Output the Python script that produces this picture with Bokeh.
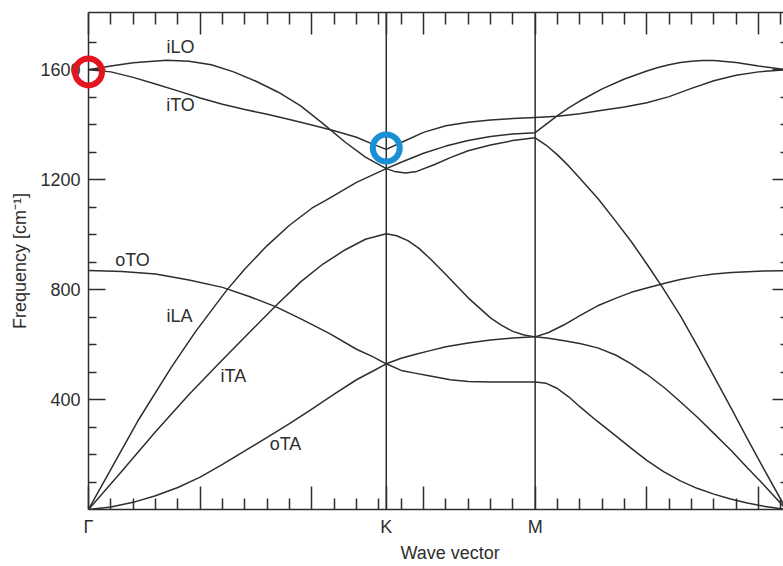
from bokeh.plotting import figure
from bokeh.models import Range1d, LinearAxis, FixedTicker, Span, Title, CustomLabelingPolicy
from bokeh.core.properties import value
from bokeh.embed import file_html
from bokeh.resources import INLINE

# High-symmetry points along the path, wave vector in units of pi/a
K_POS = 4 / 3
M_POS = 2.0
G_END = 3.125

# Phonon branches of graphene along Gamma-K-M-Gamma: wave vector and frequency (cm^-1)
ilo_q = [0, 0.10, 0.20, 0.35, 0.45, 0.55, 0.65, 0.75, 0.85, 0.95, 1.05, 1.15, 1.24, K_POS,
         1.40, 1.50, 1.60, 1.70, 1.80, 1.90, M_POS,
         2.05, 2.10, 2.15, 2.20, 2.30, 2.40, 2.50, 2.55, 2.60, 2.65, 2.70, 2.75, 2.80, 2.90, 3.00, G_END]
ilo_f = [1600, 1613, 1625, 1634, 1631, 1618, 1592, 1558, 1518, 1468, 1404, 1336, 1282, 1240,
         1263, 1296, 1322, 1342, 1357, 1366, 1371,
         1402, 1433, 1461, 1486, 1530, 1566, 1595, 1608, 1618, 1626, 1631, 1633, 1633, 1626, 1613, 1600]

ito_q = [0, 0.10, 0.20, 0.30, 0.40, 0.50, 0.60, 0.70, 0.80, 0.90, 1.00, 1.10, 1.20, 1.27, K_POS,
         1.40, 1.50, 1.60, 1.70, 1.80, 1.90, M_POS,
         2.10, 2.20, 2.30, 2.40, 2.50, 2.60, 2.70, 2.80, 2.90, 3.00, G_END]
ito_f = [1600, 1592, 1572, 1548, 1523, 1497, 1474, 1455, 1438, 1419, 1399, 1378, 1354, 1330, 1310,
         1335, 1372, 1396, 1409, 1417, 1422, 1426,
         1431, 1440, 1452, 1464, 1480, 1502, 1532, 1560, 1580, 1592, 1600]

ila_q = [0, 0.10, 0.22, 0.37, 0.48, 0.62, 0.70, 0.80, 0.90, 1.00, 1.07, 1.20, K_POS,
         1.37, 1.42, 1.47, 1.55, 1.62, 1.70, 1.80, 1.90, M_POS,
         2.05, 2.10, 2.15, 2.20, 2.28, 2.35, 2.43, 2.50, 2.57, 2.65, 2.73, 2.80, 2.88, 2.95, 3.02, G_END]
ila_f = [0, 146, 321, 516, 648, 799, 875, 960, 1034, 1096, 1128, 1190, 1240,
         1230, 1224, 1230, 1255, 1280, 1305, 1326, 1342, 1352,
         1325, 1290, 1250, 1205, 1132, 1060, 975, 893, 808, 705, 590, 485, 365, 258, 153, 0]

ita_q = [0, 0.15, 0.30, 0.45, 0.60, 0.73, 0.84, 0.95, 1.05, 1.15, 1.24, K_POS,
         1.38, 1.43, 1.48, 1.53, 1.60, 1.70, 1.80, 1.85, 1.90, 1.95, M_POS,
         2.06, 2.13, 2.20, 2.28, 2.36, 2.43, 2.50, 2.58, 2.65, 2.73, 2.80, 2.88, 2.95, 3.02, G_END]
ita_f = [0, 140, 283, 418, 545, 652, 742, 828, 893, 945, 983, 1003,
         996, 978, 950, 912, 855, 770, 697, 670, 648, 635, 628,
         623, 614, 604, 588, 562, 530, 492, 442, 392, 333, 277, 213, 152, 93, 0]

oto_q = [0, 0.15, 0.30, 0.45, 0.60, 0.72, 0.84, 0.96, 1.08, 1.20, 1.27, K_POS,
         1.40, 1.47, 1.53, 1.60, 1.70, 1.80, 1.90, M_POS,
         2.06, 2.13, 2.20, 2.28, 2.36, 2.43, 2.50, 2.58, 2.65, 2.73, 2.80, 2.88, 3.00, G_END]
oto_f = [869, 866, 857, 835, 808, 775, 737, 690, 640, 583, 557, 530,
         550, 566, 578, 592, 606, 617, 624, 628,
         644, 672, 705, 741, 768, 790, 806, 823, 837, 849, 857, 862, 867, 869]

ota_q = [0, 0.10, 0.20, 0.30, 0.40, 0.50, 0.60, 0.70, 0.80, 0.90, 1.00, 1.10, 1.20, 1.27, K_POS,
         1.40, 1.455, 1.53, 1.62, 1.70, 1.80, 1.90, M_POS,
         2.05, 2.10, 2.15, 2.20, 2.275, 2.35, 2.425, 2.50, 2.575, 2.65, 2.725, 2.80, 2.875, 2.95,
         3.03, G_END]
ota_f = [0, 9, 26, 50, 80, 118, 164, 213, 262, 312, 365, 420, 472, 502, 530,
         506, 497, 486, 472, 466, 464, 464, 464,
         459, 440, 410, 374, 323, 275, 226, 179, 138, 104, 77, 56, 38, 24,
         11, 0]

# Branch names written next to the curves
label_text = ["iLO", "iTO", "oTO", "iLA", "iTA", "oTA"]
label_q = [0.412, 0.412, 0.197, 0.407, 0.649, 0.882]
label_f = [1684, 1473, 909, 705, 486, 239]

# Highlighted points: Gamma-point G mode and Kohn anomaly of iTO at K
mark_q = [0.0, K_POS]
mark_f = [1592, 1315]
mark_color = ["#e3161f", "#1a8fd3"]

INK = "#2e2e2e"
FONT = "Liberation Sans"

p = figure(width=783, height=566, output_backend="svg", toolbar_location=None,
           x_range=Range1d(0, 3.112), y_range=Range1d(0, 1808),
           x_axis_type=None, y_axis_type=None,
           min_border_left=88, min_border_right=0, min_border_top=12, min_border_bottom=57)
p.outline_line_color = None
p.background_fill_color = "white"
p.border_fill_color = "white"

no_labels = CustomLabelingPolicy(code="return []")

# Frequency axes
y_ticker = FixedTicker(ticks=[400, 800, 1200, 1600],
                       minor_ticks=[100, 200, 300, 500, 600, 700, 900, 1000, 1100,
                                    1300, 1400, 1500, 1700])
left = LinearAxis(ticker=y_ticker, axis_label="Frequency [cm\u207b\u00b9]")
left.major_tick_in = 17
left.minor_tick_in = 8
left.major_label_standoff = 8
left.major_label_text_font = FONT
left.major_label_text_font_size = "18px"
left.major_label_text_color = INK
left.axis_label_text_font = FONT
left.axis_label_text_font_size = "18px"
left.axis_label_text_font_style = "normal"
left.axis_label_text_color = INK
left.axis_label_standoff = 7
p.add_layout(left, "left")

right = LinearAxis(ticker=y_ticker, major_label_policy=no_labels)
right.major_tick_in = 11
right.minor_tick_in = 3
right.major_label_text_font_size = "0px"
right.major_label_standoff = 0
p.add_layout(right, "right")

# Wave-vector axes: long ticks every 0.5, short every 0.1
x_major = [0.0, 0.5, 1.0, K_POS, 1.5, M_POS, 2.5, 3.0]
x_minor = [round(0.1 * i, 1) for i in range(1, 32) if i % 5 != 0]
x_ticker = FixedTicker(ticks=x_major, minor_ticks=x_minor)
x_names = {0.0: "\u0393", K_POS: "K", M_POS: "M", 0.5: "", 1.0: "", 1.5: "", 2.5: "", 3.0: ""}
named = [x_major.index(v) for v in (0.0, K_POS, M_POS)]

bottom = LinearAxis(ticker=x_ticker,
                    major_label_policy=CustomLabelingPolicy(code="return keep", args=dict(keep=named)))
bottom.major_label_overrides = x_names
bottom.major_tick_in = 23
bottom.minor_tick_in = 11
bottom.major_label_standoff = 7
bottom.major_label_text_font = FONT
bottom.major_label_text_font_size = "18px"
bottom.major_label_text_color = INK
p.add_layout(bottom, "below")

top = LinearAxis(ticker=x_ticker, major_label_policy=no_labels)
top.major_tick_in = 22
top.minor_tick_in = 12
top.major_label_text_font_size = "0px"
top.major_label_standoff = 0
p.add_layout(top, "above")

for ax in (left, right, bottom, top):
    ax.axis_line_color = None if ax is right else INK
    ax.axis_line_width = 1.5
    ax.major_tick_out = 0
    ax.minor_tick_out = 0
    ax.major_tick_line_color = INK
    ax.minor_tick_line_color = INK
    ax.major_tick_line_width = 1.5
    ax.minor_tick_line_width = 1.5

p.add_layout(Title(text="Wave vector", align="left", offset=312, standoff=2,
                   text_font=FONT, text_font_size="18px", text_font_style="normal",
                   text_color=INK), "below")

# Vertical guides at K and M
for loc in (K_POS, M_POS):
    p.add_layout(Span(location=loc, dimension="height", line_color=INK, line_width=1.5))

# Dispersion curves
for q, f in ((ilo_q, ilo_f), (ito_q, ito_f), (ila_q, ila_f),
             (ita_q, ita_f), (oto_q, oto_f), (ota_q, ota_f)):
    p.line(q, f, line_color=INK, line_width=1.5, line_join="round")

p.text(x=label_q, y=label_f, text=label_text, text_font=value(FONT),
       text_font_size="18px", text_color=INK, text_align="center", text_baseline="middle")

p.scatter(x=mark_q, y=mark_f, marker="circle", size=27, fill_color=None,
          line_color=mark_color, line_width=6, level="overlay")

open("out.html", "w").write(file_html(p, INLINE))
